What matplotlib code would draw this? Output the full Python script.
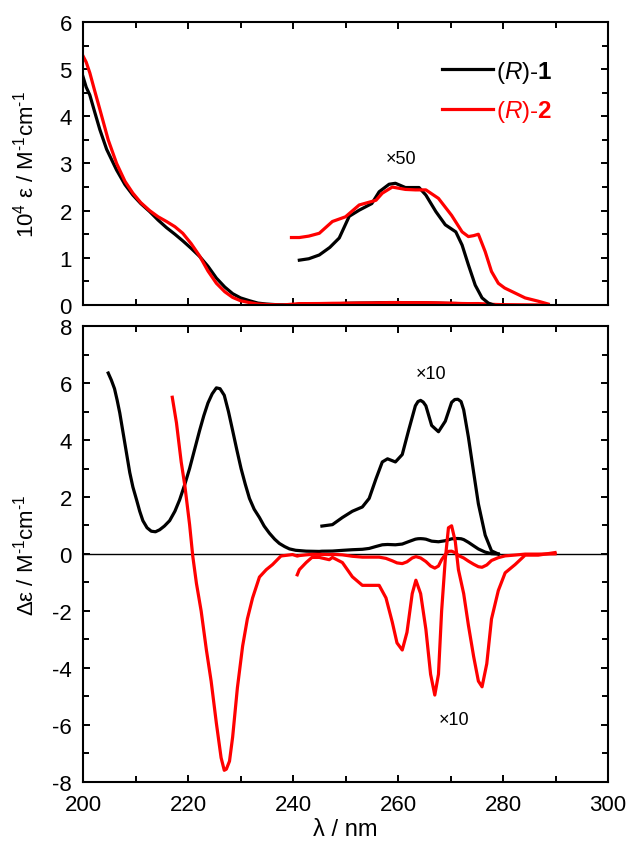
import matplotlib
matplotlib.use('Agg')

import matplotlib.pyplot as plt
from matplotlib.ticker import MultipleLocator
import numpy as np

plt.rcParams['font.family'] = ['Liberation Sans', 'DejaVu Sans']
plt.rcParams['mathtext.fontset'] = 'custom'
plt.rcParams['mathtext.rm'] = 'Liberation Sans'
plt.rcParams['mathtext.it'] = 'Liberation Sans:italic'
plt.rcParams['mathtext.bf'] = 'Liberation Sans:bold'
plt.rcParams['axes.unicode_minus'] = False

# --- UV-vis absorption (10^4 eps), main spectra
uv_wl_1 = [200, 200.6, 201.3, 202.2, 203.2, 204.5, 206.4, 208, 209.5, 211, 212.7, 214.3, 215.9,
           217.5, 219, 220.6, 222.2, 223.8, 225.4, 227, 228.5, 230, 231.7, 233.3, 234.9, 237, 240]
uv_1 = [4.84, 4.62, 4.45, 4.1, 3.72, 3.3, 2.86, 2.55, 2.33, 2.15, 1.98, 1.8, 1.64,
        1.5, 1.36, 1.2, 1.03, 0.82, 0.57, 0.38, 0.24, 0.15, 0.09, 0.04, 0.02, 0.005, 0.0]
uv_wl_2 = [200, 200.6, 201.3, 202.2, 203.2, 204.8, 206.4, 208, 209.5, 211, 212.7, 214.3, 215.9,
           217.5, 219, 220.6, 222.2, 223.8, 225.4, 227, 228.5, 230, 231.7, 233.3, 235, 238]
uv_2 = [5.28, 5.15, 4.92, 4.55, 4.15, 3.5, 3.0, 2.62, 2.37, 2.17, 2.0, 1.87, 1.77,
        1.66, 1.52, 1.3, 1.04, 0.72, 0.46, 0.28, 0.16, 0.09, 0.05, 0.02, 0.01, 0.0]

# --- UV-vis x50 region
uv50_wl_1 = [241.2, 243, 245, 247, 248.8, 250.7, 252.6, 255, 256.4, 258.3, 259.5, 261.4, 264, 265.3,
             267.2, 269, 271, 272.2, 273.4, 274.7, 276, 277.2, 278.2]
uv50_1 = [0.95, 0.98, 1.06, 1.22, 1.42, 1.88, 2.01, 2.15, 2.4, 2.56, 2.58, 2.49, 2.49, 2.33,
          1.98, 1.7, 1.55, 1.27, 0.85, 0.42, 0.15, 0.04, 0.0]
uv50_wl_2 = [239.7, 241.2, 243, 245, 247.5, 250, 252.6, 255.8, 257, 258.9, 261.4, 263.3, 265.3,
             267.7, 270.2, 272.2, 273.4, 274.4, 275.3, 276.6, 277.8, 279.1, 280.3, 281.6, 284.2,
             286.7, 288.6]
uv50_2 = [1.43, 1.43, 1.46, 1.52, 1.77, 1.87, 2.12, 2.22, 2.37, 2.5, 2.45, 2.44, 2.44,
          2.26, 1.9, 1.55, 1.45, 1.47, 1.5, 1.13, 0.71, 0.46, 0.36, 0.29, 0.15,
          0.08, 0.02]

# --- CD (delta eps), main spectra
cd_wl_1 = [204.8, 205.4, 206, 206.5, 207, 207.5, 208, 208.9, 209.5, 210.2, 210.8, 211.4, 212.2,
           213, 213.8, 214.6, 215.5, 216.5, 217.5, 218.4, 219.4, 220.3, 221.3, 222.2, 223, 223.8,
           224.6, 225.4, 226.1, 226.9, 227.7, 228.5, 229.3, 230.1, 230.9, 231.7, 232.6, 233.6,
           234.5, 235.5, 236.5, 237.4, 238.4, 239.3, 240.5, 242.5, 245]
cd_1 = [6.35, 6.1, 5.8, 5.4, 4.95, 4.4, 3.85, 2.86, 2.35, 1.9, 1.5, 1.17, 0.92,
        0.8, 0.78, 0.85, 0.98, 1.17, 1.5, 1.9, 2.45, 3.0, 3.7, 4.33, 4.85, 5.3,
        5.62, 5.83, 5.8, 5.57, 5.0, 4.33, 3.65, 3.0, 2.45, 1.95, 1.57, 1.28,
        0.98, 0.73, 0.52, 0.37, 0.26, 0.18, 0.13, 0.1, 0.09]
cd_wl_2 = [217, 217.8, 218.7, 219.4, 220.3, 220.9, 221.6, 222.5, 223.5, 224.4, 225.4, 226.3,
           226.9, 227.3, 227.9, 228.5, 229.4, 230.4, 231.3, 232.3, 233.6, 234.9, 236.1, 237.7, 239.9]
cd_2 = [5.5, 4.6, 3.23, 2.39, 1.03, -0.07, -1.03, -2.0, -3.37, -4.46, -5.94, -7.15,
        -7.59, -7.55, -7.27, -6.42, -4.7, -3.23, -2.28, -1.54, -0.81, -0.55, -0.37, -0.07, -0.02]

# --- CD x10 region
cd10_wl_1 = [245.5, 247.5, 249.4, 251.3, 253.2, 254.5, 255.8, 257, 258, 259.5, 260.8, 262,
             263.3, 263.8, 264.3, 264.8, 265.3, 266.4, 267.7, 269, 270.2, 270.8, 271.4, 272,
             272.5, 273.4, 274.4, 275.3, 276.6, 277.8, 279.1]
cd10_1 = [0.98, 1.03, 1.28, 1.5, 1.65, 1.95, 2.64, 3.23, 3.34, 3.23, 3.49, 4.33,
          5.2, 5.35, 5.39, 5.33, 5.2, 4.51, 4.29, 4.66, 5.32, 5.42, 5.43, 5.35,
          5.06, 4.1, 2.86, 1.76, 0.66, 0.11, 0.0]
cd10_wl_2 = [240.8, 241.2, 242.5, 243.6, 245, 246.9, 247.5, 249.4, 251.3, 253.2, 256.4, 257.7,
             258.9, 259.8, 260.8, 261.7, 262.7, 263.4, 264.3, 265.3, 266.2, 267, 267.7, 268.3,
             269, 269.6, 270.2, 270.9, 271.5, 272.5, 273.4, 274.4, 275.3, 276, 276.9, 277.8,
             279.1, 280.4, 282.3, 284.2, 286.7, 289.9]
cd10_2 = [-0.73, -0.55, -0.3, -0.12, -0.12, -0.2, -0.12, -0.3, -0.8, -1.1, -1.1, -1.54,
          -2.39, -3.12, -3.37, -2.75, -1.39, -0.92, -1.39, -2.64, -4.22, -4.95, -4.22, -2.0,
          -0.18, 0.92, 0.99, 0.44, -0.55, -1.39, -2.5, -3.6, -4.46, -4.66, -3.85, -2.28,
          -1.28, -0.66, -0.37, -0.04, -0.04, 0.05]

black = 'black'
red = '#ff0000'
lw = 2.3

fig = plt.figure(figsize=(6.27, 8.45), dpi=100)
ax1 = fig.add_axes([0.1324, 0.6379, 0.8374, 0.3349])
ax2 = fig.add_axes([0.1324, 0.0734, 0.8374, 0.5396])

# top panel
ax1.plot(np.concatenate([uv_wl_1, uv50_wl_1]), np.concatenate([uv_1, np.array(uv50_1) / 50]),
         color=black, lw=lw, label=r'($\mathit{R}$)-$\mathbf{1}$')
ax1.plot(np.concatenate([uv_wl_2, uv50_wl_2[1:]]), np.concatenate([uv_2, np.array(uv50_2[1:]) / 50]),
         color=red, lw=lw, label=r'($\mathit{R}$)-$\mathbf{2}$')
ax1.plot(uv50_wl_1, uv50_1, color=black, lw=lw)
ax1.plot(uv50_wl_2, uv50_2, color=red, lw=lw)
ax1.text(260.5, 3.11, '×50', fontsize=13, ha='center', va='center')
ax1.set_xlim(200, 300)
ax1.set_ylim(0, 6)
ax1.set_ylabel(r'10$^{4}$ ε / M$^{\text{-}1}$cm$^{\text{-}1}$', fontsize=16, labelpad=15)
ax1.yaxis.set_major_locator(MultipleLocator(1))
ax1.yaxis.set_minor_locator(MultipleLocator(0.5))
ax1.tick_params(labelbottom=False)
leg = ax1.legend(loc='upper left', bbox_to_anchor=(0.683, 0.87), frameon=False, fontsize=17.5,
                 handlelength=2.1, handletextpad=0.15, labelspacing=0.55,
                 borderpad=0, borderaxespad=0)
for txt, c in zip(leg.get_texts(), [black, red]):
    txt.set_color(c)

# bottom panel
ax2.axhline(0, color=black, lw=1.0)
ax2.plot(np.concatenate([cd_wl_1, cd10_wl_1]), np.concatenate([cd_1, np.array(cd10_1) / 10]),
         color=black, lw=lw)
ax2.plot(np.concatenate([cd_wl_2, cd10_wl_2]), np.concatenate([cd_2, np.array(cd10_2) / 10]),
         color=red, lw=lw)
ax2.plot(cd10_wl_1, cd10_1, color=black, lw=lw)
ax2.plot(cd10_wl_2, cd10_2, color=red, lw=lw)
ax2.text(266.2, 6.35, '×10', fontsize=13, ha='center', va='center')
ax2.text(270.6, -5.8, '×10', fontsize=13, ha='center', va='center')
ax2.set_xlim(200, 300)
ax2.set_ylim(-8, 8)
ax2.set_ylabel(r'Δε / M$^{\text{-}1}$cm$^{\text{-}1}$', fontsize=16, labelpad=10)
ax2.set_xlabel('λ / nm', fontsize=17, labelpad=2)
ax2.yaxis.set_major_locator(MultipleLocator(2))
ax2.yaxis.set_minor_locator(MultipleLocator(1))

for ax in (ax1, ax2):
    ax.xaxis.set_major_locator(MultipleLocator(20))
    ax.xaxis.set_minor_locator(MultipleLocator(10))
    ax.tick_params(which='both', direction='in', top=True, right=True, width=1.4, labelsize=16)
    ax.tick_params(which='major', length=5)
    ax.tick_params(which='minor', length=4)
    ax.tick_params(axis='x', pad=9)
    ax.tick_params(axis='y', pad=8)
    for s in ax.spines.values():
        s.set_linewidth(1.5)

fig.savefig('out.png', dpi=100)
